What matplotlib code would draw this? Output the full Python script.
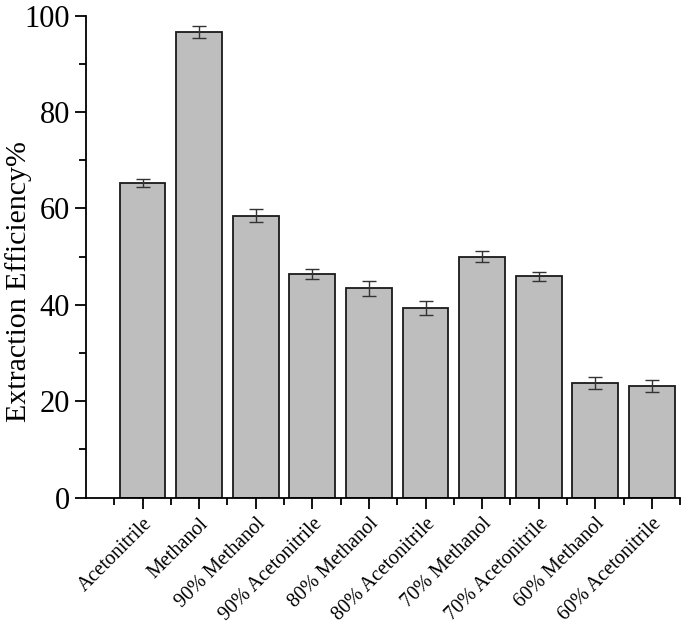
"""
Extraction efficiency bar chart with error bars
"""

import matplotlib
matplotlib.use('Agg')
import matplotlib.pyplot as plt
from matplotlib.ticker import MultipleLocator
import numpy as np

matplotlib.rcParams['font.family'] = ['Liberation Serif', 'DejaVu Serif']

# data
solvents = ['Acetonitrile', 'Methanol', '90% Methanol', '90% Acetonitrile',
            '80% Methanol', '80% Acetonitrile', '70% Methanol', '70% Acetonitrile',
            '60% Methanol', '60% Acetonitrile']
efficiency = [65.3, 96.5, 58.5, 46.4, 43.4, 39.3, 50.0, 45.9, 23.8, 23.2]
errors = [0.8, 1.25, 1.4, 0.95, 1.6, 1.5, 1.2, 0.87, 1.15, 1.25]

fig = plt.figure(figsize=(6.85, 6.24), dpi=100)
ax = fig.add_axes([0.1255, 0.2024, 0.8675, 0.7726])

x = np.arange(len(solvents))
ax.bar(x, efficiency, width=0.81, color='#bebebe', edgecolor='#1a1a1a', linewidth=1.3,
       yerr=errors, capsize=5,
       error_kw=dict(ecolor='#333333', elinewidth=1.0, capthick=1.0))

ax.set_xlim(-1, 9.5)
ax.set_ylim(0, 100)
ax.set_xticks(x)
ax.set_xticklabels(solvents, rotation=45, ha='right', rotation_mode='anchor', fontsize=14.5)
ax.xaxis.set_minor_locator(MultipleLocator(1, offset=0.5))
ax.yaxis.set_major_locator(MultipleLocator(20))
ax.yaxis.set_minor_locator(MultipleLocator(10))
ax.tick_params(axis='y', which='major', labelsize=22, length=8, width=1.3, direction='out')
ax.tick_params(axis='y', which='minor', length=5, width=1.3, direction='out')
ax.tick_params(axis='x', which='major', length=8, width=1.3, direction='out', pad=4)
ax.tick_params(axis='x', which='minor', length=5, width=1.3, direction='out')

ax.set_ylabel('Extraction Efficiency%', fontsize=21.5)
ax.yaxis.set_label_coords(-0.091, 0.448)

for side in ['top', 'right']:
    ax.spines[side].set_visible(False)
for side in ['left', 'bottom']:
    ax.spines[side].set_linewidth(1.3)

plt.savefig('out.png', dpi=100)
plt.close()
